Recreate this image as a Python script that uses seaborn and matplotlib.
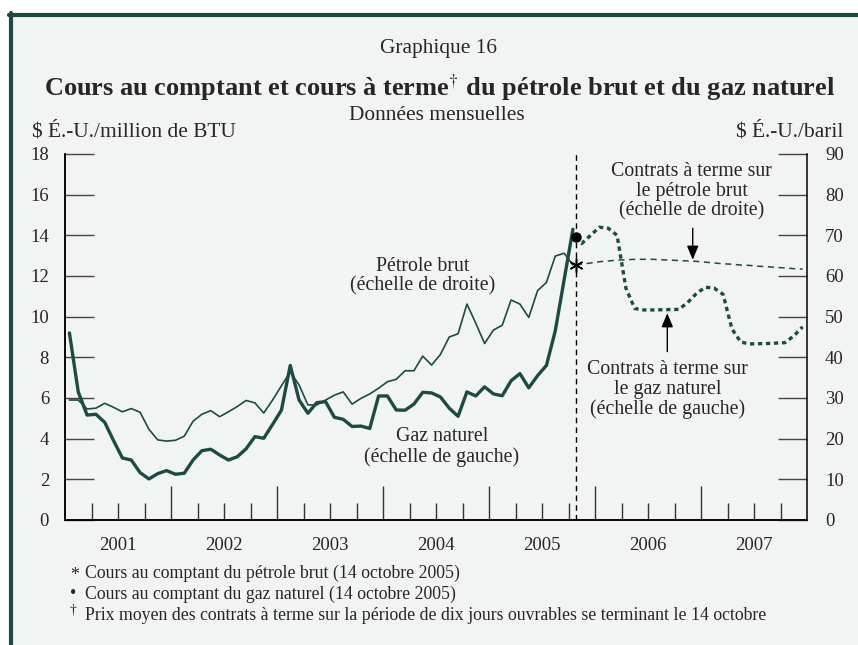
import numpy as np
import pandas as pd
import matplotlib
matplotlib.use("Agg")
import matplotlib.pyplot as plt
import seaborn as sns
from matplotlib.lines import Line2D
from matplotlib.patches import Rectangle

# ---- data ----
# monthly spot prices, Jan 2001 - Oct 2005
gas_spot = [9.2, 6.3, 5.16, 5.2, 4.8, 3.9, 3.05, 2.95, 2.33, 2.02, 2.28, 2.43,
            2.25, 2.3, 2.95, 3.41, 3.48, 3.2, 2.95, 3.11, 3.5, 4.1, 4.02, 4.7,
            5.4, 7.6, 5.9, 5.25, 5.77, 5.82, 5.05, 4.95, 4.6, 4.62, 4.5, 6.1,
            6.1, 5.41, 5.4, 5.7, 6.28, 6.25, 6.05, 5.5, 5.1, 6.3, 6.1, 6.55,
            6.2, 6.11, 6.85, 7.2, 6.5, 7.1, 7.6, 9.3, 11.8, 14.3]
oil_spot = [29.5, 29.5, 27.3, 27.5, 28.7, 27.7, 26.6, 27.4, 26.5, 22.3, 19.7, 19.4,
            19.6, 20.6, 24.3, 26.0, 26.9, 25.4, 26.6, 27.9, 29.4, 28.8, 26.3, 29.5,
            33.0, 36.4, 33.2, 28.3, 28.3, 29.5, 30.7, 31.5, 28.5, 29.9, 31.0, 32.4,
            34.0, 34.6, 36.7, 36.7, 40.3, 38.1, 40.7, 45.0, 45.8, 53.1, 48.4, 43.4,
            46.7, 47.9, 54.1, 53.1, 49.8, 56.4, 58.4, 64.9, 65.6, 62.7]

# futures curves, Nov 2005 - Dec 2007
gas_futures = [13.6, 14.0, 14.4, 14.35, 14.0, 11.4, 10.4, 10.33, 10.33, 10.34, 10.35, 10.36,
               10.7, 11.15, 11.45, 11.4, 11.1, 9.4, 8.75, 8.66, 8.67, 8.68, 8.7, 8.72,
               9.05, 9.5]
oil_futures = [62.9, 63.2, 63.5, 63.7, 63.9, 64.0, 64.1, 64.1, 64.1, 64.0, 63.9, 63.8,
               63.7, 63.6, 63.4, 63.2, 63.0, 62.9, 62.7, 62.6, 62.4, 62.3, 62.1, 62.0,
               61.8, 61.7]

# spot on 14 October 2005
spot_date = 2005.82
gas_spot_now = 13.9
oil_spot_now = 62.7

years = list(range(2001, 2008))
left_ticks = list(range(0, 19, 2))
right_ticks = list(range(0, 91, 10))

green = "#1d4b43"
bg = "#f2f4f3"

t_spot = 2001 + (np.arange(len(gas_spot)) + 0.5) / 12
t_fut = t_spot[-1] + np.arange(1, len(gas_futures) + 1) / 12

spot = pd.DataFrame({"t": t_spot, "gas": gas_spot, "oil": oil_spot})
fut = pd.DataFrame({"t": np.r_[spot_date, t_fut],
                    "gas": [gas_spot_now] + gas_futures,
                    "oil": [oil_spot_now] + oil_futures})

# ---- style ----
sns.set_style("ticks")
plt.rcParams["font.family"] = ["Liberation Serif", "DejaVu Serif"]
plt.rcParams["mathtext.fontset"] = "stix"

W, H = 858, 645
fig = plt.figure(figsize=(W / 100, H / 100), dpi=100)
fig.patch.set_facecolor("white")

# frame: light panel with dark green border on top and left
fig.patches.append(Rectangle((9 / W, 0), 1, 1 - 13 / H, transform=fig.transFigure,
                             facecolor=bg, edgecolor="none", zorder=-10))
fig.lines.append(Line2D([9 / W, 1], [1 - 15 / H, 1 - 15 / H], transform=fig.transFigure,
                        color=green, lw=3))
fig.lines.append(Line2D([11 / W, 11 / W], [0, 1 - 13 / H], transform=fig.transFigure,
                        color=green, lw=3))

ax = fig.add_axes([65 / W, 125 / H, 742 / W, 366 / H])
ax.set_facecolor("none")
ax2 = ax.twinx()

# spot series
sns.lineplot(data=spot, x="t", y="gas", ax=ax, color=green, linewidth=2.4)
sns.lineplot(data=spot, x="t", y="oil", ax=ax2, color=green, linewidth=1.2)

# futures
sns.lineplot(data=fut, x="t", y="gas", ax=ax, color=green, linewidth=2.4,
             linestyle=(0, (1.3, 1.1)))
sns.lineplot(data=fut, x="t", y="oil", ax=ax2, color=green, linewidth=1.1,
             linestyle=(0, (4, 3)))

ax.axvline(spot_date, color="black", lw=1, linestyle=(0, (4, 3)), zorder=1)

ax.plot([spot_date], [gas_spot_now], "o", color="black", markersize=6.5, zorder=5)
ax2.plot([spot_date], [oil_spot_now], marker=(6, 2, 0), color="black",
         markersize=10, mew=1.1, zorder=5)

# ---- axes ----
ax.set_xlim(2001, 2008)
ax.set_ylim(0, 18)
ax2.set_ylim(0, 90)
ax.set_yticks(left_ticks)
ax2.set_yticks(right_ticks)
ax.set_xlabel("")
ax.set_ylabel("")
ax2.set_ylabel("")

ax.set_xticks(years[1:])
ax.set_xticklabels([])
minor_pos, minor_lab = [], []
for y in years:
    for q in (1, 2, 3):
        minor_pos.append(y + q / 4)
        minor_lab.append(str(y) if q == 2 else "")
ax.set_xticks(minor_pos, minor=True)
ax.set_xticklabels(minor_lab, minor=True)

ax.tick_params(axis="x", which="major", direction="in", length=24.5, width=1,
               color="#333")
ax.tick_params(axis="x", which="minor", direction="in", length=12.2, width=1,
               color="#333", pad=12, labelsize=13.5)
ax.tick_params(axis="y", direction="in", length=21, width=1, color="#444",
               pad=11.5, labelsize=13.5)
ax2.tick_params(axis="y", direction="in", length=21, width=1, color="#444",
                pad=13, labelsize=13.5)

for a in (ax, ax2):
    a.spines["top"].set_visible(False)
    for s in a.spines.values():
        s.set_linewidth(1.1)
        s.set_color("black")
ax.spines["right"].set_visible(False)

# ---- annotations ----
txt = dict(ha="center", va="center", fontsize=14.3, linespacing=1.05)
ax.text(2004.377, 11.98, "Pétrole brut\n(échelle de droite)", **txt)
ax.text(2004.554, 3.6, "Gaz naturel\n(échelle de gauche)", **txt)
ax.text(2006.912, 16.15, "Contrats à terme sur\nle pétrole brut\n(échelle de droite)", **txt)
ax.text(2006.682, 6.42, "Contrats à terme sur\nle gaz naturel\n(échelle de gauche)", **txt)

arrow = dict(arrowstyle="-|>,head_length=0.6,head_width=0.25", color="black",
             lw=1, mutation_scale=14, shrinkA=0, shrinkB=0)
ax.annotate("", xy=(2006.922, 12.8), xytext=(2006.922, 14.35), arrowprops=arrow)
ax.annotate("", xy=(2006.682, 10.17), xytext=(2006.682, 8.28), arrowprops=arrow)

# ---- titles ----
fig.text(438 / W, 1 - 48 / H, "Graphique 16", ha="center", va="center", fontsize=15.4)
fig.text(440 / W, 1 - 88 / H,
         r"Cours au comptant et cours à terme$^{\dagger}$ du pétrole brut et du gaz naturel",
         ha="center", va="center", fontsize=19, fontweight="bold")
fig.text(437 / W, 1 - 115 / H, "Données mensuelles", ha="center", va="center",
         fontsize=15.4)
fig.text(32 / W, 1 - 132 / H, "$ É.-U./million de BTU", ha="left", va="center",
         fontsize=15.4)
fig.text(843 / W, 1 - 132 / H, "$ É.-U./baril", ha="right", va="center", fontsize=15.4)

# ---- footnotes ----
fig.text(70 / W, 1 - 575 / H, "*", ha="left", va="center", fontsize=12.8)
fig.text(85 / W, 1 - 573 / H, "Cours au comptant du pétrole brut (14 octobre 2005)",
         ha="left", va="center", fontsize=12.8)
fig.text(70 / W, 1 - 594 / H, "•", ha="left", va="center", fontsize=12.8)
fig.text(85 / W, 1 - 594 / H, "Cours au comptant du gaz naturel (14 octobre 2005)",
         ha="left", va="center", fontsize=12.8)
fig.text(70 / W, 1 - 611 / H, "†", ha="left", va="center", fontsize=10)
fig.text(85 / W, 1 - 616 / H,
         "Prix moyen des contrats à terme sur la période de dix jours ouvrables se terminant le 14 octobre",
         ha="left", va="center", fontsize=12.8)

fig.savefig("out.png", dpi=100, facecolor=fig.get_facecolor())
